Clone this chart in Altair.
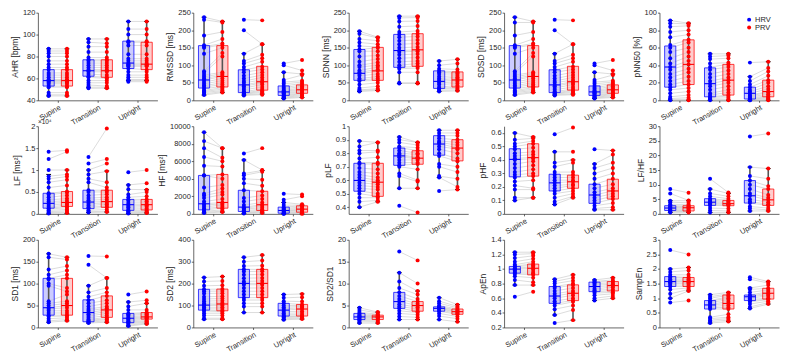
import altair as alt
import pandas as pd

CONDITIONS = ["Supine", "Transition", "Upright"]
SERIES = ["HRV", "PRV"]
COLORS = ["#0000ff", "#ff0000"]

# ---------------- data (per panel: [Supine, Transition, Upright]) ----------------
AHR_HRV = [[44, 45, 47, 52, 53, 55, 56, 57, 58, 58, 59, 61, 63, 65, 68, 70, 73, 76, 80, 83, 85, 87],
           [51, 52, 54, 56, 58, 61, 62, 64, 66, 67, 68, 70, 72, 74, 76, 77, 79, 84, 89, 93, 96],
           [57, 58, 59, 61, 63, 66, 69, 71, 72, 73, 74, 76, 78, 82, 90, 93, 94, 100, 105, 112]]
AHR_PRV = [[44, 45, 47, 52, 53, 55, 56, 57, 58, 58, 59, 61, 63, 65, 68, 70, 73, 76, 80, 83, 85, 87],
           [51, 52, 53, 56, 58, 60, 61, 63, 66, 67, 68, 70, 72, 74, 76, 77, 79, 84, 89, 92, 96],
           [57, 58, 59, 61, 63, 66, 68, 71, 72, 73, 74, 76, 78, 82, 90, 93, 94, 100, 105, 112]]
AHR_BOX_HRV = [[44, 53, 58, 68, 87], [52, 62, 67, 77, 96], [58, 69, 74, 94, 112]]
AHR_BOX_PRV = [[44, 53, 58, 68, 87], [51, 61, 67, 77, 96], [58, 68, 73, 93, 112]]

RMSSD_HRV = [[15, 18, 22, 25, 28, 33, 38, 42, 47, 52, 58, 62, 67, 72, 78, 83, 133, 150, 153, 157, 185, 230, 237],
             [14, 16, 18, 20, 22, 25, 30, 35, 40, 44, 50, 55, 62, 70, 80, 87, 95, 105, 112, 133, 200, 230],
             [5, 7, 9, 11, 13, 15, 18, 20, 23, 25, 28, 32, 36, 41, 47, 52, 58, 80, 100, 105]]
RMSSD_PRV = [[22, 25, 28, 32, 36, 40, 45, 50, 56, 62, 68, 72, 76, 80, 125, 135, 150, 158, 162, 175, 195, 222, 225],
             [16, 18, 22, 25, 28, 32, 38, 45, 50, 53, 58, 65, 72, 80, 88, 96, 110, 120, 130, 160, 160, 228],
             [8, 10, 13, 16, 19, 21, 24, 27, 30, 33, 36, 40, 44, 48, 52, 56, 72, 75, 85, 115]]
RMSSD_BOX_HRV = [[15, 35, 58, 156, 237], [15, 22, 44, 87, 133], [5, 14, 24, 41, 80]]
RMSSD_BOX_PRV = [[22, 38, 68, 156, 225], [18, 29, 53, 97, 160], [8, 20, 30, 44, 75]]

SDNN_HRV = [[25, 28, 30, 35, 45, 55, 58, 62, 70, 75, 80, 85, 95, 100, 110, 125, 140, 145, 155, 165, 175, 190, 197],
            [48, 50, 80, 90, 94, 100, 110, 120, 130, 138, 142, 150, 160, 170, 180, 188, 195, 210, 225, 235, 240],
            [25, 28, 32, 34, 38, 45, 50, 54, 58, 62, 68, 75, 80, 84, 90, 100, 112]]
SDNN_PRV = [[28, 30, 33, 40, 50, 57, 62, 68, 75, 84, 88, 95, 100, 108, 118, 128, 140, 150, 152, 160, 170, 178, 180],
            [48, 50, 80, 92, 97, 105, 112, 122, 132, 140, 144, 152, 162, 172, 182, 190, 198, 212, 226, 236, 240],
            [27, 30, 34, 38, 42, 48, 53, 58, 62, 66, 70, 75, 78, 81, 88, 105, 117]]
SDNN_BOX_HRV = [[25, 57, 77, 145, 197], [48, 94, 142, 188, 240], [25, 34, 54, 84, 112]]
SDNN_BOX_PRV = [[28, 57, 84, 151, 180], [48, 97, 144, 190, 240], [27, 38, 58, 81, 117]]

SDSD_HRV = [[15, 18, 22, 25, 28, 33, 38, 42, 47, 52, 58, 62, 67, 72, 78, 83, 133, 150, 153, 157, 185, 222, 237],
            [14, 16, 18, 20, 22, 25, 30, 35, 40, 44, 50, 55, 62, 70, 80, 87, 95, 105, 112, 133, 200, 230],
            [5, 7, 9, 11, 13, 15, 18, 20, 23, 25, 28, 32, 36, 41, 47, 52, 58, 80, 100, 105]]
SDSD_PRV = [[22, 25, 28, 32, 36, 40, 45, 50, 56, 62, 68, 72, 76, 80, 125, 135, 150, 158, 162, 175, 195, 222, 225],
            [16, 18, 22, 25, 28, 32, 38, 45, 50, 53, 58, 65, 72, 80, 88, 96, 110, 120, 130, 160, 160, 228],
            [8, 10, 13, 16, 19, 21, 24, 27, 30, 33, 36, 40, 44, 48, 52, 56, 72, 75, 85, 115]]
SDSD_BOX_HRV = [[15, 35, 58, 156, 237], [15, 22, 44, 87, 133], [5, 14, 24, 41, 80]]
SDSD_BOX_PRV = [[22, 38, 68, 156, 225], [18, 29, 53, 97, 160], [8, 20, 30, 44, 75]]

PNN50_HRV = [[0, 1, 2, 4, 8, 12, 15, 18, 22, 26, 30, 35, 38, 42, 48, 55, 60, 63, 72, 78, 84, 88, 91],
             [0, 1, 2, 3, 4, 6, 8, 12, 16, 19, 22, 26, 30, 35, 38, 42, 47, 50, 53],
             [0, 0, 1, 1, 2, 3, 4, 5, 6, 8, 10, 12, 15, 18, 22, 27, 43]]
PNN50_PRV = [[0, 1, 3, 6, 10, 14, 18, 22, 27, 32, 36, 41, 45, 50, 55, 60, 66, 69, 75, 80, 85, 87, 88],
             [0, 1, 3, 5, 6, 9, 12, 16, 20, 23, 26, 30, 34, 38, 41, 43, 48, 51, 53],
             [0, 1, 2, 3, 4, 5, 7, 9, 10, 13, 16, 20, 23, 28, 33, 37, 44]]
PNN50_BOX_HRV = [[0, 15, 38, 62, 91], [0, 4, 19, 37, 53], [0, 1.5, 8, 15, 27]]
PNN50_BOX_PRV = [[0, 18, 41, 69, 88], [0, 6, 23, 41, 53], [0, 4, 10, 23, 44]]

LF_HRV = [[0.01, 0.03, 0.05, 0.08, 0.11, 0.13, 0.16, 0.2, 0.24, 0.28, 0.32, 0.38, 0.44, 0.47, 0.6, 0.72, 0.8, 0.86, 1.0, 1.25, 1.42],
          [0.03, 0.05, 0.08, 0.12, 0.15, 0.19, 0.23, 0.27, 0.31, 0.36, 0.42, 0.5, 0.54, 0.72, 0.8, 0.9, 1.0, 1.15, 1.3],
          [0.01, 0.02, 0.04, 0.06, 0.08, 0.11, 0.15, 0.18, 0.21, 0.25, 0.3, 0.33, 0.38, 0.44, 0.56, 0.66, 0.95]]
LF_PRV = [[0.02, 0.04, 0.07, 0.1, 0.14, 0.17, 0.2, 0.23, 0.26, 0.3, 0.35, 0.42, 0.48, 0.51, 0.65, 0.78, 0.85, 0.9, 1.0, 1.42, 1.45],
          [0.04, 0.06, 0.1, 0.15, 0.18, 0.22, 0.25, 0.28, 0.33, 0.38, 0.45, 0.5, 0.54, 0.6, 0.72, 0.97, 1.15, 1.25, 1.95],
          [0.02, 0.03, 0.05, 0.07, 0.09, 0.12, 0.16, 0.19, 0.21, 0.25, 0.29, 0.33, 0.4, 0.5, 0.55, 0.7, 1.0]]
LF_BOX_HRV = [[0.0, 0.13, 0.24, 0.47, 0.9], [0.03, 0.12, 0.27, 0.54, 1.0], [0.01, 0.08, 0.21, 0.33, 0.66]]
LF_BOX_PRV = [[0.01, 0.17, 0.26, 0.51, 1.0], [0.04, 0.15, 0.28, 0.54, 0.98], [0.02, 0.09, 0.21, 0.33, 0.55]]

HF_HRV = [[100, 200, 300, 460, 600, 800, 1000, 1150, 1400, 1800, 2100, 2300, 3000, 4385, 4400, 5500, 6500, 7500, 8300, 9300],
          [50, 100, 150, 270, 400, 550, 650, 770, 1000, 1400, 1800, 2690, 3500, 4000, 4400, 4600, 6150, 6900],
          [0, 50, 77, 150, 250, 320, 385, 500, 600, 770, 1000, 1300, 1600, 2300]]
HF_PRV = [[200, 300, 450, 650, 800, 1000, 1150, 1300, 1700, 2200, 2500, 2900, 3300, 4000, 4500, 5400, 6000, 6400, 7500, 7500],
          [100, 200, 300, 385, 500, 700, 900, 1040, 1300, 1700, 2100, 2580, 3200, 3900, 4800, 4950, 5000, 7500],
          [0, 100, 190, 280, 380, 460, 540, 650, 800, 920, 1000, 1100, 2000, 2200]]
HF_BOX_HRV = [[100, 460, 1150, 4385, 9300], [50, 270, 770, 2690, 6150], [0, 77, 385, 770, 1300]]
HF_BOX_PRV = [[200, 650, 1300, 4500, 7500], [100, 385, 1040, 2580, 4950], [0, 190, 540, 920, 1000]]

PLF_HRV = [[0.40, 0.44, 0.47, 0.50, 0.52, 0.54, 0.56, 0.58, 0.60, 0.62, 0.64, 0.66, 0.69, 0.72, 0.73, 0.76, 0.80, 0.82, 0.85, 0.89],
           [0.41, 0.54, 0.63, 0.65, 0.70, 0.71, 0.73, 0.75, 0.77, 0.78, 0.79, 0.80, 0.82, 0.84, 0.85, 0.88, 0.90, 0.92],
           [0.52, 0.62, 0.63, 0.70, 0.72, 0.78, 0.80, 0.83, 0.85, 0.87, 0.88, 0.89, 0.91, 0.93, 0.95, 0.97]]
PLF_PRV = [[0.44, 0.45, 0.47, 0.48, 0.50, 0.53, 0.55, 0.57, 0.585, 0.60, 0.62, 0.65, 0.68, 0.72, 0.73, 0.77, 0.81, 0.82, 0.88, 0.88],
           [0.36, 0.54, 0.59, 0.60, 0.68, 0.72, 0.73, 0.75, 0.76, 0.765, 0.77, 0.79, 0.80, 0.82, 0.84, 0.86, 0.88, 0.88],
           [0.53, 0.55, 0.61, 0.66, 0.70, 0.74, 0.76, 0.80, 0.83, 0.84, 0.86, 0.88, 0.90, 0.93, 0.95, 0.97]]
PLF_BOX_HRV = [[0.40, 0.518, 0.598, 0.725, 0.89], [0.54, 0.71, 0.78, 0.838, 0.92], [0.62, 0.785, 0.868, 0.93, 0.97]]
PLF_BOX_PRV = [[0.44, 0.48, 0.585, 0.725, 0.88], [0.54, 0.718, 0.763, 0.818, 0.88], [0.53, 0.743, 0.838, 0.90, 0.97]]

PHF_HRV = [[0.10, 0.12, 0.18, 0.21, 0.24, 0.27, 0.29, 0.31, 0.34, 0.37, 0.40, 0.41, 0.43, 0.45, 0.48, 0.50, 0.52, 0.55, 0.60],
           [0.07, 0.09, 0.12, 0.15, 0.17, 0.19, 0.21, 0.23, 0.25, 0.27, 0.29, 0.31, 0.35, 0.38, 0.46, 0.59],
           [0.03, 0.04, 0.06, 0.08, 0.10, 0.12, 0.14, 0.16, 0.19, 0.22, 0.26, 0.30, 0.34, 0.37, 0.48]]
PHF_PRV = [[0.12, 0.12, 0.18, 0.19, 0.25, 0.28, 0.30, 0.33, 0.36, 0.39, 0.41, 0.42, 0.44, 0.46, 0.49, 0.52, 0.54, 0.56, 0.57],
           [0.12, 0.13, 0.15, 0.17, 0.19, 0.21, 0.22, 0.24, 0.25, 0.27, 0.29, 0.31, 0.38, 0.40, 0.46, 0.64],
           [0.03, 0.05, 0.08, 0.11, 0.13, 0.15, 0.17, 0.19, 0.22, 0.26, 0.30, 0.34, 0.38, 0.44, 0.47]]
PHF_BOX_HRV = [[0.10, 0.275, 0.404, 0.483, 0.60], [0.07, 0.17, 0.23, 0.294, 0.46], [0.03, 0.078, 0.14, 0.22, 0.37]]
PHF_BOX_PRV = [[0.12, 0.28, 0.417, 0.52, 0.57], [0.12, 0.19, 0.238, 0.287, 0.40], [0.03, 0.11, 0.17, 0.257, 0.47]]

LFHF_HRV = [[0.5, 0.8, 1.0, 1.15, 1.4, 1.7, 2.0, 2.2, 2.5, 2.8, 3.3, 4.0, 4.5, 7.0, 8.5],
            [0.5, 1.2, 2.0, 2.9, 3.2, 3.6, 4.0, 4.4, 4.8, 5.2, 6.0, 7.0, 8.5, 12.0],
            [1.0, 1.8, 2.5, 3.7, 4.2, 5.0, 6.2, 7.0, 8.5, 10.0, 11.4, 13.0, 16.0, 26.5]]
LFHF_PRV = [[0.5, 0.8, 1.0, 1.1, 1.5, 1.8, 2.1, 2.3, 2.5, 2.8, 3.2, 3.8, 4.5, 4.6, 7.2],
            [0.5, 1.0, 1.8, 2.8, 3.0, 3.3, 3.5, 3.8, 4.2, 4.6, 5.2, 6.0, 7.0, 7.3],
            [1.0, 1.4, 2.0, 2.9, 3.3, 4.0, 4.8, 5.5, 6.5, 8.5, 9.5, 12.0, 15.5, 27.5]]
LFHF_BOX_HRV = [[0.5, 1.15, 2.0, 2.8, 4.5], [0.5, 2.9, 4.0, 5.2, 8.5], [1.0, 3.7, 6.2, 11.4, 16.0]]
LFHF_BOX_PRV = [[0.5, 1.0, 2.1, 2.8, 4.5], [0.5, 2.8, 3.5, 4.6, 7.0], [1.0, 2.9, 4.8, 8.5, 15.5]]

SD1_HRV = [[12, 15, 20, 25, 28, 33, 38, 42, 45, 50, 55, 60, 95, 100, 110, 112, 120, 132, 160, 168],
           [10, 12, 14, 16, 18, 22, 26, 30, 34, 38, 42, 48, 55, 62, 70, 80, 95, 143, 163],
           [3, 5, 8, 10, 12, 14, 17, 19, 21, 24, 27, 30, 32, 40, 48, 58, 75]]
SD1_PRV = [[15, 18, 22, 26, 28, 33, 38, 45, 50, 55, 60, 75, 82, 90, 112, 120, 130, 140, 155, 160],
           [12, 15, 18, 20, 23, 27, 32, 36, 40, 44, 48, 55, 62, 72, 80, 90, 113, 113, 162],
           [8, 10, 12, 14, 16, 19, 21, 23, 25, 27, 30, 32, 34, 40, 55, 62, 82]]
SD1_BOX_HRV = [[12, 28, 45, 112, 168], [10, 13, 34, 63, 95], [3, 11, 21, 32, 58]]
SD1_BOX_PRV = [[15, 28, 50, 112, 160], [12, 23, 40, 72, 113], [8, 19, 24, 34, 55]]

SD2_HRV = [[37, 42, 55, 65, 75, 79, 85, 92, 100, 102, 110, 120, 130, 140, 155, 165, 174, 190, 210, 228],
           [68, 95, 110, 125, 136, 150, 165, 180, 195, 201, 210, 225, 240, 255, 265, 280, 300, 320],
           [35, 40, 45, 50, 52, 58, 65, 72, 79, 85, 92, 100, 110, 120, 135, 150]]
SD2_PRV = [[37, 42, 55, 65, 72, 76, 84, 92, 100, 107, 112, 122, 132, 142, 156, 166, 175, 192, 212, 232],
           [68, 95, 110, 125, 136, 150, 165, 180, 195, 201, 212, 226, 242, 256, 265, 282, 305, 330],
           [38, 42, 47, 50, 52, 58, 66, 74, 84, 90, 96, 100, 105, 118, 138, 153]]
SD2_BOX_HRV = [[37, 79, 102, 174, 228], [68, 136, 201, 265, 320], [35, 52, 79, 110, 150]]
SD2_BOX_PRV = [[37, 76, 107, 175, 232], [68, 136, 201, 265, 330], [38, 52, 84, 105, 153]]

SDR_HRV = [[1.0, 1.3, 1.6, 1.8, 2.0, 2.2, 2.4, 2.5, 2.7, 2.9, 3.2, 3.5, 4.0, 4.5],
           [1.8, 2.5, 3.2, 3.8, 4.35, 4.8, 5.3, 5.9, 6.5, 7.2, 8.0, 9.0, 10.5, 12.5, 17.3],
           [1.8, 2.6, 3.2, 3.7, 4.0, 4.3, 4.4, 4.6, 4.7, 5.0, 5.5, 6.0, 6.8]]
SDR_PRV = [[1.0, 1.3, 1.5, 1.8, 2.0, 2.2, 2.3, 2.4, 2.5, 2.6, 2.8, 3.0, 3.3, 3.5],
           [1.8, 2.3, 2.9, 3.4, 3.7, 4.2, 4.6, 5.0, 5.4, 5.9, 6.5, 7.5, 8.3, 10.0, 15.3],
           [1.3, 2.0, 2.5, 3.0, 3.2, 3.4, 3.6, 3.8, 4.0, 4.2, 4.5, 4.8, 5.2]]
SDR_BOX_HRV = [[1.0, 1.8, 2.4, 3.2, 4.5], [1.8, 4.35, 5.9, 8.0, 12.5], [1.8, 3.7, 4.35, 4.7, 6.8]]
SDR_BOX_PRV = [[1.0, 1.8, 2.4, 2.8, 3.5], [1.8, 3.7, 5.0, 5.9, 8.3], [1.3, 3.0, 3.6, 4.2, 5.2]]

APEN_HRV = [[0.62, 0.78, 0.85, 0.9, 0.93, 0.945, 0.96, 0.98, 1.0, 1.01, 1.03, 1.04, 1.06, 1.1, 1.15, 1.2, 1.23],
            [0.26, 0.37, 0.45, 0.5, 0.53, 0.56, 0.6, 0.63, 0.66, 0.7, 0.74, 0.76, 0.8, 0.83, 0.86],
            [0.57, 0.6, 0.64, 0.67, 0.69, 0.71, 0.73, 0.76, 0.78, 0.8, 0.82, 0.83, 0.85]]
APEN_PRV = [[0.69, 0.78, 0.82, 0.88, 0.92, 0.94, 0.96, 0.99, 1.01, 1.03, 1.05, 1.07, 1.1, 1.14, 1.18, 1.21, 1.23],
            [0.3, 0.44, 0.5, 0.55, 0.57, 0.6, 0.64, 0.67, 0.7, 0.74, 0.78, 0.8, 0.84, 0.88, 0.92],
            [0.6, 0.63, 0.66, 0.68, 0.7, 0.72, 0.75, 0.77, 0.79, 0.81, 0.83, 0.85, 0.88]]
APEN_BOX_HRV = [[0.78, 0.943, 0.998, 1.035, 1.23], [0.37, 0.53, 0.63, 0.76, 0.86], [0.57, 0.69, 0.76, 0.82, 0.85]]
APEN_BOX_PRV = [[0.78, 0.92, 1.01, 1.067, 1.23], [0.3, 0.567, 0.668, 0.783, 0.92], [0.6, 0.70, 0.773, 0.828, 0.88]]

SAMPEN_HRV = [[0.85, 1.0, 1.15, 1.3, 1.4, 1.45, 1.5, 1.55, 1.57, 1.6, 1.65, 1.7, 1.74, 1.8, 1.9, 2.0, 2.65],
              [0.15, 0.2, 0.25, 0.3, 0.35, 0.63, 0.68, 0.72, 0.77, 0.8, 0.85, 0.9, 0.92, 1.0, 1.05, 1.12],
              [0.65, 0.7, 0.8, 0.88, 0.92, 0.96, 1.0, 1.05, 1.08, 1.11, 1.2, 1.3, 1.35, 1.65, 1.72]]
SAMPEN_PRV = [[0.92, 1.25, 1.3, 1.35, 1.4, 1.45, 1.5, 1.55, 1.57, 1.6, 1.65, 1.7, 1.71, 1.8, 1.95, 2.05, 2.5],
              [0.2, 0.25, 0.3, 0.35, 0.45, 0.63, 0.68, 0.75, 0.82, 0.88, 0.95, 1.0, 1.05, 1.1, 1.15, 1.2],
              [0.8, 0.85, 0.9, 0.95, 0.97, 1.0, 1.08, 1.12, 1.17, 1.22, 1.28, 1.34, 1.45, 1.52, 1.57]]
SAMPEN_BOX_HRV = [[1.0, 1.40, 1.57, 1.74, 2.0], [0.15, 0.63, 0.77, 0.92, 1.12], [0.65, 0.92, 1.05, 1.11, 1.35]]
SAMPEN_BOX_PRV = [[1.25, 1.40, 1.57, 1.71, 2.05], [0.2, 0.63, 0.82, 1.11, 1.2], [0.8, 0.97, 1.17, 1.34, 1.57]]

# (y label, y domain, y ticks, HRV, PRV, HRV box, PRV box)
PANELS = [
    ("AHR [bpm]", [40, 120], [40, 60, 80, 100, 120], AHR_HRV, AHR_PRV, AHR_BOX_HRV, AHR_BOX_PRV),
    ("RMSSD [ms]", [0, 250], [0, 50, 100, 150, 200, 250], RMSSD_HRV, RMSSD_PRV, RMSSD_BOX_HRV, RMSSD_BOX_PRV),
    ("SDNN [ms]", [0, 250], [0, 50, 100, 150, 200, 250], SDNN_HRV, SDNN_PRV, SDNN_BOX_HRV, SDNN_BOX_PRV),
    ("SDSD [ms]", [0, 250], [0, 50, 100, 150, 200, 250], SDSD_HRV, SDSD_PRV, SDSD_BOX_HRV, SDSD_BOX_PRV),
    ("pNN50 [%]", [0, 100], [0, 20, 40, 60, 80, 100], PNN50_HRV, PNN50_PRV, PNN50_BOX_HRV, PNN50_BOX_PRV),
    ("LF [ms²]", [0, 2], [0, 0.5, 1, 1.5, 2], LF_HRV, LF_PRV, LF_BOX_HRV, LF_BOX_PRV),
    ("HF [ms²]", [0, 10000], [0, 2000, 4000, 6000, 8000, 10000], HF_HRV, HF_PRV, HF_BOX_HRV, HF_BOX_PRV),
    ("pLF", [0.35, 1], [0.4, 0.5, 0.6, 0.7, 0.8, 0.9, 1], PLF_HRV, PLF_PRV, PLF_BOX_HRV, PLF_BOX_PRV),
    ("pHF", [0, 0.65], [0, 0.1, 0.2, 0.3, 0.4, 0.5, 0.6], PHF_HRV, PHF_PRV, PHF_BOX_HRV, PHF_BOX_PRV),
    ("LF/HF", [0, 30], [0, 5, 10, 15, 20, 25, 30], LFHF_HRV, LFHF_PRV, LFHF_BOX_HRV, LFHF_BOX_PRV),
    ("SD1 [ms]", [0, 200], [0, 50, 100, 150, 200], SD1_HRV, SD1_PRV, SD1_BOX_HRV, SD1_BOX_PRV),
    ("SD2 [ms]", [0, 400], [0, 100, 200, 300, 400], SD2_HRV, SD2_PRV, SD2_BOX_HRV, SD2_BOX_PRV),
    ("SD2/SD1", [0, 20], [0, 5, 10, 15, 20], SDR_HRV, SDR_PRV, SDR_BOX_HRV, SDR_BOX_PRV),
    ("ApEn", [0.2, 1.4], [0.2, 0.4, 0.6, 0.8, 1, 1.2, 1.4], APEN_HRV, APEN_PRV, APEN_BOX_HRV, APEN_BOX_PRV),
    ("SampEn", [0, 3], [0, 0.5, 1, 1.5, 2, 2.5, 3], SAMPEN_HRV, SAMPEN_PRV, SAMPEN_BOX_HRV, SAMPEN_BOX_PRV),
]

# ---------------- layout / style ----------------
W, H = 120, 88
OFF, BW, CAP = 0.23, 0.14, 0.06
FONT = "Liberation Sans"
TXT = "#262626"

color_scale = alt.Scale(domain=SERIES, range=COLORS)


def xenc(field):
    return alt.X(f"{field}:Q",
                 scale=alt.Scale(domain=[0.5, 3.5], nice=False, zero=False),
                 axis=alt.Axis(values=[1, 2, 3], title=None, labelAngle=330,
                               labelExpr="['', 'Supine', 'Transition', 'Upright'][datum.value]"))


def yenc(field, label, dom, ticks):
    return alt.Y(f"{field}:Q",
                 scale=alt.Scale(domain=dom, nice=False, zero=False),
                 axis=alt.Axis(values=ticks, title=label, format=".6~r"))


def make_panel(idx, label, dom, ticks, hrv, prv, bh, bp):
    pairs, pts, boxes = [], [], []
    for ci in range(3):
        xc = ci + 1
        for h, v in zip(hrv[ci], prv[ci]):
            pairs.append(dict(xh=xc - OFF, xp=xc + OFF, yh=h, yp=v))
            pts.append(dict(x=xc - OFF, y=h, s="HRV"))
            pts.append(dict(x=xc + OFF, y=v, s="PRV"))
        for s, b, sign in (("HRV", bh[ci], -1), ("PRV", bp[ci], 1)):
            x = xc + sign * OFF
            boxes.append(dict(s=s, x=x, xl=x - BW, xr=x + BW, cl=x - CAP, cr=x + CAP,
                              lo=b[0], q1=b[1], med=b[2], q3=b[3], hi=b[4]))
    pr, pt, bx = pd.DataFrame(pairs), pd.DataFrame(pts), pd.DataFrame(boxes)
    Y = lambda f: yenc(f, label, dom, ticks)
    col = alt.Color("s:N", scale=color_scale, legend=None)
    stk = alt.Stroke("s:N", scale=color_scale, legend=None)

    fill = alt.Chart(bx).mark_rect(opacity=0.2).encode(
        x=xenc("xl"), x2="xr", y=Y("q1"), y2="q3", color=col)
    lines = alt.Chart(pr).mark_rule(color="#c4c4c4", strokeWidth=0.6).encode(
        x=xenc("xh"), x2="xp", y=Y("yh"), y2="yp")
    whisk = alt.Chart(bx).mark_rule(color="#555555", strokeWidth=1.6).encode(
        x=xenc("x"), y=Y("lo"), y2="hi")
    cap_lo = alt.Chart(bx).mark_rule(color="black", strokeWidth=1).encode(
        x=xenc("cl"), x2="cr", y=Y("lo"))
    cap_hi = alt.Chart(bx).mark_rule(color="black", strokeWidth=1).encode(
        x=xenc("cl"), x2="cr", y=Y("hi"))
    dots = alt.Chart(pt).mark_circle(size=16, opacity=1).encode(
        x=xenc("x"), y=Y("y"), color=col)
    edge = alt.Chart(bx).mark_rect(fillOpacity=0, strokeWidth=1, strokeOpacity=0.75).encode(
        x=xenc("xl"), x2="xr", y=Y("q1"), y2="q3", stroke=stk)
    med = alt.Chart(bx).mark_rule(strokeWidth=1.1).encode(
        x=xenc("xl"), x2="xr", y=Y("med"), color=col)
    layers = [fill, lines, whisk, cap_lo, cap_hi, dots, edge, med]

    if idx == 5:  # LF exponent label
        layers.append(alt.Chart(pd.DataFrame({"t": ["×10⁴"]})).mark_text(
            align="left", baseline="bottom", fontSize=6.5, font=FONT, color=TXT).encode(
            x=alt.value(0), y=alt.value(-1), text="t:N"))
    if idx == 4:  # legend
        for k, (s, c) in enumerate(zip(SERIES, COLORS)):
            ldf = pd.DataFrame({"t": [s]})
            layers.append(alt.Chart(ldf).mark_circle(size=16, opacity=1, color=c).encode(
                x=alt.value(90), y=alt.value(7 + 8 * k)))
            layers.append(alt.Chart(ldf).mark_text(
                align="left", baseline="middle", fontSize=7.5, font=FONT, color=TXT).encode(
                x=alt.value(96), y=alt.value(7 + 8 * k), text="t:N"))
    return alt.layer(*layers).properties(width=W, height=H)


charts = [make_panel(i, *p) for i, p in enumerate(PANELS)]

chart = alt.concat(*charts, columns=5, spacing={"row": 26, "column": 36}, bounds="flush").properties(
    padding={"left": 2, "top": 0, "right": 2, "bottom": 2},
    background="white",
).configure_view(stroke=None).configure_axis(
    grid=False,
    labelFont=FONT, titleFont=FONT,
    labelFontSize=7.5, titleFontSize=8.5, titleFontWeight="normal",
    labelColor=TXT, titleColor=TXT,
    domainColor=TXT, tickColor=TXT, domainWidth=0.7, tickWidth=0.7,
    tickSize=2, labelPadding=1, titlePadding=3,
)

chart.save("out.html", embed_options={"renderer": "svg", "actions": False})
